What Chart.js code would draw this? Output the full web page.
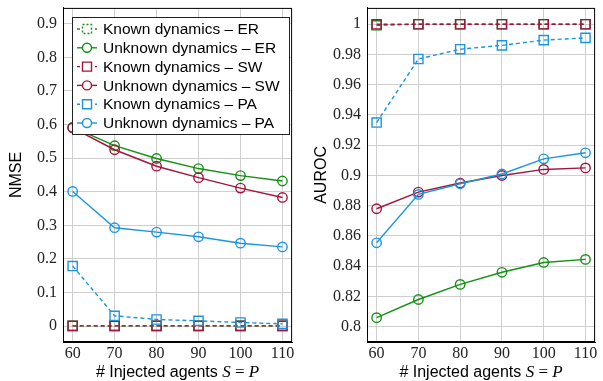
<!DOCTYPE html>
<html>
<head>
<meta charset="utf-8">
<script src="https://cdn.jsdelivr.net/npm/chart.js@4.4.1/dist/chart.umd.min.js"></script>
<style>
    html, body { margin: 0; padding: 0; background: #fff; }
    #wrap { display: flex; width: 603px; height: 381px; }
    .panel { position: relative; height: 381px; }
</style>
</head>
<body>
<div id="wrap">
    <div class="panel" style="width:300px"><canvas id="nmseChart"></canvas></div>
    <div class="panel" style="width:303px"><canvas id="aurocChart"></canvas></div>
</div>
<script>

// DATA

const agents = [60, 70, 80, 90, 100, 110];

const nmseKnownER   = [0.001, 0.001, 0.001, 0.001, 0.001, 0.001];
const nmseUnknownER = [0.592, 0.537, 0.499, 0.469, 0.448, 0.432];
const nmseKnownSW   = [0.001, 0.001, 0.001, 0.001, 0.001, 0.001];
const nmseUnknownSW = [0.590, 0.525, 0.476, 0.442, 0.411, 0.383];
const nmseKnownPA   = [0.179, 0.031, 0.020, 0.016, 0.011, 0.007];
const nmseUnknownPA = [0.401, 0.293, 0.280, 0.266, 0.247, 0.236];

const aurocKnownER   = [0.9993, 1.0, 1.0, 1.0, 1.0, 1.0];
const aurocUnknownER = [0.806, 0.818, 0.828, 0.836, 0.8425, 0.8445];
const aurocKnownSW   = [1.0, 1.0, 1.0, 1.0, 1.0, 1.0];
const aurocUnknownSW = [0.878, 0.889, 0.895, 0.900, 0.904, 0.905];
const aurocKnownPA   = [0.935, 0.977, 0.9835, 0.986, 0.9895, 0.991];
const aurocUnknownPA = [0.8555, 0.8875, 0.8945, 0.901, 0.911, 0.915];

const xTicks = [60, 70, 80, 90, 100, 110];
const nmseTicks = [0, 0.1, 0.2, 0.3, 0.4, 0.5, 0.6, 0.7, 0.8, 0.9];
const aurocTicks = [0.8, 0.82, 0.84, 0.86, 0.88, 0.9, 0.92, 0.94, 0.96, 0.98, 1];

const legendLabels = [
    "Known dynamics \u2013 ER", "Unknown dynamics \u2013 ER",
    "Known dynamics \u2013 SW", "Unknown dynamics \u2013 SW",
    "Known dynamics \u2013 PA", "Unknown dynamics \u2013 PA"
];

const GREEN = "#149014";
const RED = "#a2143e";
const BLUE = "#1b96dc";
const SERIF = "'Liberation Serif', 'DejaVu Serif', serif";
const SANS = "'Liberation Sans', Arial, sans-serif";



// DATASETS

function makeSeries(values, label, color, known, idx) {
    return {
        label: label,
        data: agents.map((x, i) => ({ x: x, y: values[i] })),
        borderColor: color,
        backgroundColor: "transparent",
        borderWidth: 1.4,
        borderDash: known ? [4, 3] : [],
        pointStyle: known ? "rect" : "circle",
        pointRadius: known ? 6.5 : 4.7,
        pointBorderWidth: 1.4,
        pointBackgroundColor: "transparent",
        pointBorderColor: color,
        tension: 0,
        order: 6 - idx
    };
}

function buildDatasets(series) {
    const colors = [GREEN, GREEN, RED, RED, BLUE, BLUE];
    return series.map((vals, i) => makeSeries(vals, legendLabels[i], colors[i], i % 2 === 0, i));
}



// FRAME + TITLES + LEGEND PLUGIN

function framePlugin(yTitle, yTitleX, withLegend) {
    return {
        id: "frame",
        afterDraw(chart) {
            const ctx = chart.ctx;
            const a = chart.chartArea;
            ctx.save();

            // box
            ctx.strokeStyle = "#000";
            ctx.lineWidth = 1;
            ctx.strokeRect(a.left + 0.5, a.top + 0.5, a.right - a.left - 1, a.bottom - a.top - 1);

            // y title
            ctx.fillStyle = "#000";
            ctx.font = "16px " + SANS;
            ctx.textAlign = "center";
            ctx.textBaseline = "middle";
            ctx.translate(yTitleX, (a.top + a.bottom) / 2);
            ctx.rotate(-Math.PI / 2);
            ctx.fillText(yTitle, 0, 0);
            ctx.setTransform(1, 0, 0, 1, 0, 0);

            // x title: "# Injected agents S = P"
            const parts = [
                { t: "# Injected agents ", f: "16px " + SANS },
                { t: "S", f: "italic 17px " + SERIF },
                { t: " = ", f: "17px " + SERIF },
                { t: "P", f: "italic 17px " + SERIF }
            ];
            let total = 0;
            parts.forEach(p => { ctx.font = p.f; p.w = ctx.measureText(p.t).width; total += p.w; });
            let x = (a.left + a.right) / 2 - total / 2;
            ctx.textAlign = "left";
            ctx.textBaseline = "alphabetic";
            parts.forEach(p => { ctx.font = p.f; ctx.fillText(p.t, x, 377); x += p.w; });

            if (withLegend) drawLegend(chart);
            ctx.restore();
        }
    };
}

function drawLegend(chart) {
    const ctx = chart.ctx;
    const box = { x: 72.5, y: 17.5, w: 217, h: 117 };
    ctx.fillStyle = "#fff";
    ctx.fillRect(box.x, box.y, box.w, box.h);
    ctx.strokeStyle = "#222";
    ctx.lineWidth = 1;
    ctx.strokeRect(box.x, box.y, box.w, box.h);

    chart.data.datasets.forEach((ds, i) => {
        const cy = 29 + i * 18.8;
        const cx = 87;
        ctx.strokeStyle = ds.borderColor;
        ctx.lineWidth = 1.4;
        ctx.setLineDash(ds.borderDash.length ? [3, 3] : []);
        ctx.beginPath();
        ctx.moveTo(77, cy);
        ctx.lineTo(97, cy);
        ctx.stroke();

        ctx.setLineDash(i === 0 ? [2, 2] : []);
        ctx.fillStyle = "#fff";
        ctx.beginPath();
        if (ds.pointStyle === "rect") {
            ctx.rect(cx - 4.5, cy - 4.5, 9, 9);
        } else {
            ctx.arc(cx, cy, 4.5, 0, Math.PI * 2);
        }
        ctx.fill();
        ctx.stroke();
        ctx.setLineDash([]);

        ctx.fillStyle = "#000";
        ctx.font = "15.5px " + SANS;
        ctx.textAlign = "left";
        ctx.textBaseline = "middle";
        ctx.fillText(ds.label, 103, cy + 1);
    });
}



// CHART BUILDER

function buildChart(canvasId, series, yMin, yMax, yTicks, yAxisWidth, rightPad, yTitle, yTitleX, withLegend) {
    const ctx = document.getElementById(canvasId).getContext("2d");
    return new Chart(ctx, {
        type: "line",
        data: { datasets: buildDatasets(series) },
        options: {
            responsive: true,
            maintainAspectRatio: false,
            animation: false,
            layout: { padding: { top: 6, right: rightPad, bottom: 0, left: 0 } },
            plugins: { legend: { display: false }, tooltip: { enabled: false } },
            scales: {
                x: {
                    type: "linear",
                    min: 57.7,
                    max: 112.3,
                    afterBuildTicks: s => { s.ticks = xTicks.map(v => ({ value: v })); },
                    afterFit: s => { s.height = 39; s.paddingLeft = 0; s.paddingRight = 0; },
                    grid: { color: "#cfcfcf", drawTicks: false },
                    border: { color: "#000", width: 1 },
                    ticks: {
                        color: "#222",
                        padding: 2,
                        maxRotation: 0,
                        font: { family: SERIF, size: 16 },
                        callback: v => String(v)
                    }
                },
                y: {
                    min: yMin,
                    max: yMax,
                    afterBuildTicks: s => { s.ticks = yTicks.map(v => ({ value: v })); },
                    afterFit: s => { s.width = yAxisWidth; s.paddingTop = 0; s.paddingBottom = 0; },
                    grid: { color: "#cfcfcf", drawTicks: false },
                    border: { color: "#000", width: 1 },
                    ticks: {
                        color: "#222",
                        padding: 6,
                        font: { family: SERIF, size: 16 },
                        callback: v => String(Math.round(v * 100) / 100)
                    }
                }
            }
        },
        plugins: [framePlugin(yTitle, yTitleX, withLegend)]
    });
}

buildChart("nmseChart",
    [nmseKnownER, nmseUnknownER, nmseKnownSW, nmseUnknownSW, nmseKnownPA, nmseUnknownPA],
    -0.047, 0.947, nmseTicks, 63, 3, "NMSE", 17, true);

buildChart("aurocChart",
    [aurocKnownER, aurocUnknownER, aurocKnownSW, aurocUnknownSW, aurocKnownPA, aurocUnknownPA],
    0.7899, 1.0108, aurocTicks, 67, 5, "AUROC", 22, false);

</script>
</body>
</html>
